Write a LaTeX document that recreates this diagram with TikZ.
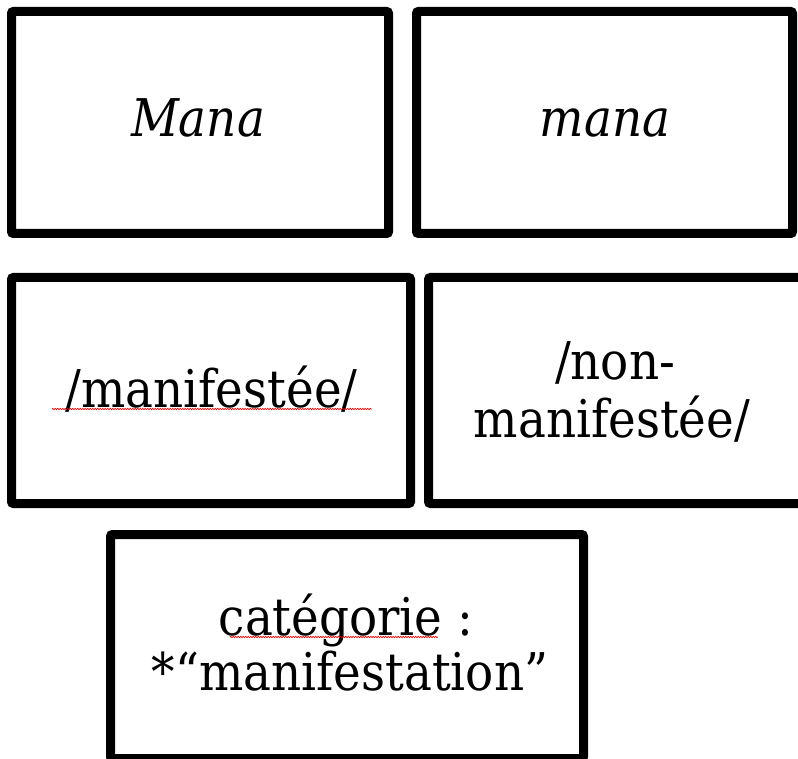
\documentclass[tikz,border=0pt]{standalone}
\usepackage{fontspec}
\setmainfont{DejaVu Serif Condensed}
\usetikzlibrary{decorations.pathmorphing}
\begin{document}
\begin{tikzpicture}[x=1pt,y=-1pt,
  box/.style={draw=black, line width=9pt, rounded corners=2pt, fill=white, inner sep=0pt},
  txt/.style={anchor=base, inner sep=0pt, font=\fontsize{52}{56}\selectfont},
  itxt/.style={txt, font=\fontsize{52}{56}\selectfont\itshape},
  squiggle/.style={draw=red!85!black, line width=0.7pt,
    decorate, decoration={snake, amplitude=0.6pt, segment length=2.5pt}}]
\useasboundingbox (0,0) rectangle (798,759);
\node[box, minimum width=377pt, minimum height=222pt] (b1) at (200,122.5) {};
\node[box, minimum width=376pt, minimum height=222pt] (b2) at (604.5,122.5) {};
\node[box, minimum width=399pt, minimum height=226pt] (b3) at (211,390.5) {};
\node[box, minimum width=375pt, minimum height=226pt] (b4) at (616,390.5) {};
\node[box, minimum width=473pt, minimum height=224pt] (b5) at (347,646.5) {};
\node[itxt] (t1) at (198,137) {Mana};
\node[itxt] (t2) at (605,137) {mana};
\node[txt] (t3) at (211.5,407) {/manifestée/};
\node[txt] (t4a) at (615,379) {/non-};
\node[txt] (t4b) at (612,437) {manifestée/};
\node[txt] (t5a) at (346,635) {catégorie :};
\node[txt] (t5b) at (350,690) {*“manifestation”};
\draw[squiggle] (52,409) -- (372,409);
\draw[squiggle] (230,637) -- (438,637);
\end{tikzpicture}
\end{document}
